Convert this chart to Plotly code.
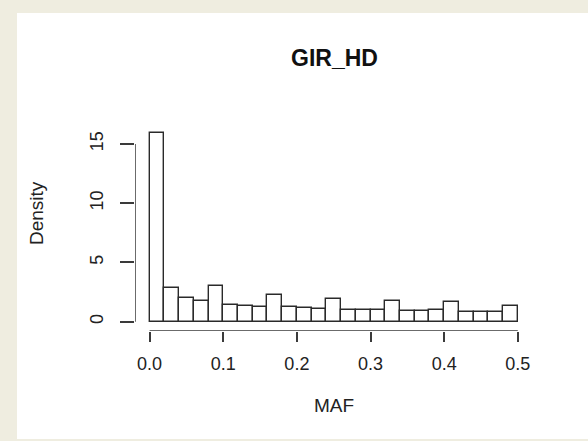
import plotly.graph_objects as go

# Histogram of MAF (density), bins of width 0.02
bin_left = [0.00, 0.02, 0.04, 0.06, 0.08, 0.10, 0.12, 0.14, 0.16, 0.18,
            0.20, 0.22, 0.24, 0.26, 0.28, 0.30, 0.32, 0.34, 0.36, 0.38,
            0.40, 0.42, 0.44, 0.46, 0.48]
bin_width = 0.02
density = [15.9, 2.86, 2.03, 1.75, 2.99, 1.38, 1.35, 1.26, 2.27, 1.20,
           1.12, 1.05, 1.95, 0.97, 1.01, 0.96, 1.77, 0.92, 0.92, 0.96,
           1.69, 0.86, 0.86, 0.86, 1.29]
x_ticks = [0.0, 0.1, 0.2, 0.3, 0.4, 0.5]
x_tick_labels = ["0.0", "0.1", "0.2", "0.3", "0.4", "0.5"]
y_ticks = [0, 5, 10, 15]
y_tick_labels = ["0", "5", "10", "15"]
title = "GIR_HD"
x_label = "MAF"
y_label = "Density"

FONT = "Liberation Sans, Arial, Helvetica, sans-serif"
INK = "#222222"
AXIS = "#3a3a3a"
BEIGE = "#EFEDE0"

W, H = 588, 441
ml, mr, mt, mb = 135, 55, 126, 110
pw, ph = W - ml - mr, H - mt - mb

x_per_px = 0.5 / (517.8 - 149.6)
y_per_px = 15 / (321.7 - 144.0)
x_lo = -(149.6 - ml) * x_per_px
y_lo = -((H - mb) - 321.7) * y_per_px

centers = [b + bin_width / 2 for b in bin_left]

fig = go.Figure()
fig.add_trace(go.Bar(
    x=centers, y=density, width=[bin_width] * len(bin_left),
    marker=dict(color="white", line=dict(color="#2a2a2a", width=1.4)),
    hoverinfo="x+y",
))
# R-style detached axis lines spanning the tick range
fig.add_trace(go.Scatter(
    x=[x_ticks[0], x_ticks[-1]], y=[y_lo, y_lo], mode="lines", cliponaxis=False,
    line=dict(color=AXIS, width=1.5), hoverinfo="skip",
))
fig.add_trace(go.Scatter(
    x=[x_lo, x_lo], y=[y_ticks[0], y_ticks[-1]], mode="lines", cliponaxis=False,
    line=dict(color=AXIS, width=1.5), hoverinfo="skip",
))

def px_to_paper_x(px):
    return (px - ml) / pw

def px_to_paper_y(py):
    return (H - mb - py) / ph

def band(x_a, y_a, x_b, y_b):
    return dict(type="rect", xref="paper", yref="paper", layer="below",
                x0=px_to_paper_x(x_a), x1=px_to_paper_x(x_b),
                y0=px_to_paper_y(y_b), y1=px_to_paper_y(y_a),
                fillcolor=BEIGE, line=dict(width=0))

shapes = [
    # beige photo frame around the white panel
    band(-5, -5, 600, 13),
    band(-5, -5, 17, 450),
    band(-5, 439, 600, 450),
]

annotations = [
    dict(text="<b>%s</b>" % title, xref="paper", yref="paper",
         x=0.5, y=px_to_paper_y(58), xanchor="center", yanchor="middle",
         showarrow=False, font=dict(family=FONT, size=23, color="#111")),
    dict(text=x_label, xref="paper", yref="paper",
         x=0.5, y=px_to_paper_y(405), xanchor="center", yanchor="middle",
         showarrow=False, font=dict(family=FONT, size=19, color=INK)),
    dict(text=y_label, xref="paper", yref="paper", textangle=-90,
         x=px_to_paper_x(36), y=px_to_paper_y(213), xanchor="center", yanchor="middle",
         showarrow=False, font=dict(family=FONT, size=19, color=INK)),
]

fig.update_layout(
    width=W, height=H,
    margin=dict(l=ml, r=mr, t=mt, b=mb, pad=0),
    paper_bgcolor="white",
    plot_bgcolor="white",
    showlegend=False,
    bargap=0,
    shapes=shapes,
    annotations=annotations,
    xaxis=dict(range=[x_lo, x_lo + pw * x_per_px], tickvals=x_ticks, ticktext=x_tick_labels,
               ticks="outside", ticklen=10, tickwidth=1.5, tickcolor=AXIS,
               showgrid=False, zeroline=False, showline=False, fixedrange=True,
               ticklabelstandoff=6,
               tickfont=dict(family=FONT, size=18, color=INK)),
    yaxis=dict(range=[y_lo, y_lo + ph * y_per_px], tickvals=y_ticks, ticktext=y_tick_labels,
               ticks="outside", ticklen=14, tickwidth=1.5, tickcolor=AXIS,
               tickangle=-90, ticklabelstandoff=10,
               showgrid=False, zeroline=False, showline=False, fixedrange=True,
               tickfont=dict(family=FONT, size=18, color=INK)),
)

fig.write_html("out.html", config={"displayModeBar": False},
               post_script="document.body.style.margin='0';document.body.style.overflow='hidden';")
